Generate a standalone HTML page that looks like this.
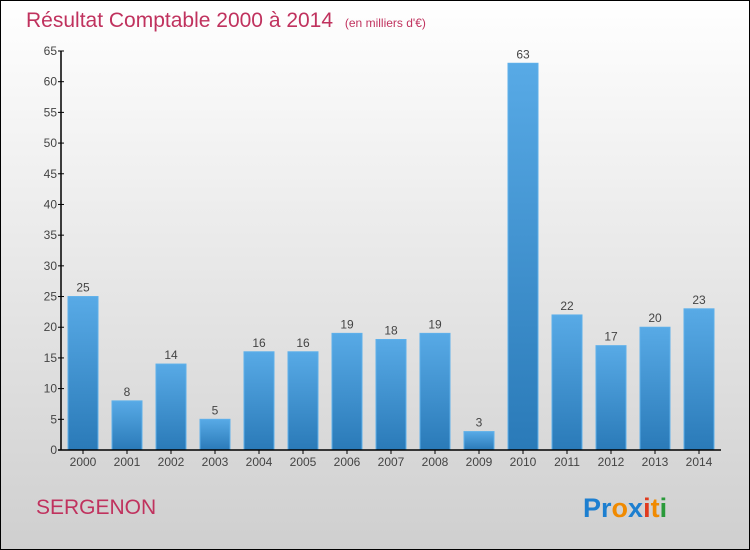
<!DOCTYPE html>
<html><head><meta charset="utf-8"><style>
body{margin:0;width:750px;height:550px;overflow:hidden}
svg{display:block;font-family:"Liberation Sans",sans-serif}
</style></head><body>
<svg width="750" height="550">
<defs>
<linearGradient id="bg" x1="0" y1="0" x2="0" y2="1"><stop offset="0" stop-color="#ffffff"/><stop offset="1" stop-color="#cfcfcf"/></linearGradient>
<linearGradient id="bar" x1="0" y1="0" x2="0" y2="1"><stop offset="0" stop-color="#58aae6"/><stop offset="1" stop-color="#2a7ab8"/></linearGradient>
</defs>
<rect x="0.5" y="0.5" width="749" height="549" fill="url(#bg)" stroke="#000"/>
<text x="26" y="27" font-size="21" fill="#c0325e">Résultat Comptable 2000 à 2014 <tspan font-size="12" dx="6">(en milliers d'€)</tspan></text>
<g id="plot"></g>
<text x="36" y="514" font-size="21" fill="#c0325e">SERGENON</text>
<text x="583" y="517" font-size="27" font-weight="bold"><tspan fill="#1d7fd0">Pr</tspan><tspan fill="#f08a00">o</tspan><tspan fill="#1d7fd0">x</tspan><tspan fill="#e03a1e">i</tspan><tspan fill="#f08a00">t</tspan><tspan fill="#2a9a3a">i</tspan></text>
</svg>
<script>
const categories=["2000","2001","2002","2003","2004","2005","2006","2007","2008","2009","2010","2011","2012","2013","2014"];
const values=[25,8,14,5,16,16,19,18,19,3,63,22,17,20,23];
const yTicks=[0,5,10,15,20,25,30,35,40,45,50,55,60,65];
const NS="http://www.w3.org/2000/svg";
const g=document.getElementById("plot");
const x0=61,x1=721,y0=450,yTop=51,yMax=65;
const band=(x1-x0)/categories.length;
const y=v=>y0-(v/yMax)*(y0-yTop);
const xc=i=>x0+band*(i+0.5);
function mk(t,a){const e=document.createElementNS(NS,t);for(const k in a)e.setAttribute(k,a[k]);g.appendChild(e);return e;}
yTicks.forEach(t=>{
 const l=mk("line",{x1:x0-3,x2:x0+3,y1:y(t),y2:y(t),stroke:"#000"});
 
 
 const tx=mk("text",{x:x0-4,y:y(t)+4,"font-size":12,fill:"#444","text-anchor":"end"});
 tx.textContent=t;
 
 
});
categories.forEach((c,i)=>{
 const b=mk("rect",{x:xc(i)-15,y:y(values[i]),width:30,height:y0-y(values[i]),fill:"url(#bar)",stroke:"#5eb0ea","stroke-width":1});
 
 
 const v=mk("text",{x:xc(i),y:y(values[i])-5,"font-size":12,fill:"#444","text-anchor":"middle"});
 v.textContent=values[i];
 
 
 const tk=mk("line",{x1:xc(i),x2:xc(i),y1:y0,y2:y0+4,stroke:"#000"});
 
 
 const xl=mk("text",{x:xc(i),y:y0+16,"font-size":12,fill:"#444","text-anchor":"middle"});
 xl.textContent=c;
 
 
});
const ya=mk("line",{x1:x0,x2:x0,y1:yTop,y2:y0,stroke:"#000","stroke-width":1.5});


const xa=mk("line",{x1:x0-3,x2:x1,y1:y0,y2:y0,stroke:"#000","stroke-width":1.5});


</script>
</body></html>
